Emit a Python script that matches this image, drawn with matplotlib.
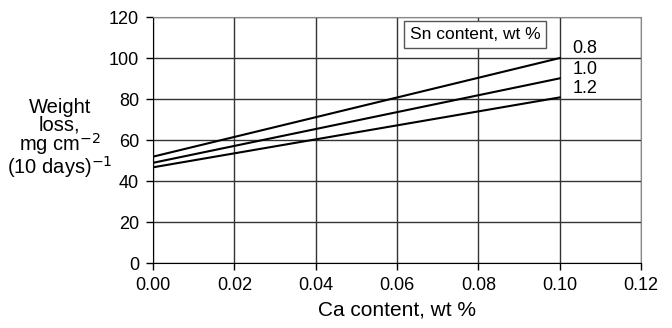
import matplotlib
matplotlib.use("Agg")
import matplotlib.pyplot as plt

plt.rcParams['font.family'] = ['Liberation Sans', 'DejaVu Sans']

# Ca content (wt %) at the line ends
ca = [0.0, 0.10]
# weight loss for each Sn content
sn_labels = ['0.8', '1.0', '1.2']
loss_08 = [51.9, 100.0]
loss_10 = [48.9, 90.1]
loss_12 = [46.7, 80.8]
series = [loss_08, loss_10, loss_12]

xticks = [0.00, 0.02, 0.04, 0.06, 0.08, 0.10, 0.12]
yticks = [0, 20, 40, 60, 80, 100, 120]

fig = plt.figure(figsize=(6.72, 3.28), dpi=100)
ax = fig.add_axes([0.2277, 0.198, 0.7262, 0.75])

for ys, lab in zip(series, sn_labels):
    ax.plot(ca, ys, color='black', lw=1.5, zorder=3)
    # label for each line at the right end
    ax.text(0.1032, ys[-1] + 4.5, lab, fontsize=13, va='center', ha='left')

ax.text(0.0792, 111.5, 'Sn content, wt %', fontsize=12.5, ha='center', va='center',
        bbox=dict(boxstyle='square,pad=0.35', fc='white', ec='#555555', lw=1), zorder=4)

ax.set_xlim(0, 0.12)
ax.set_ylim(0, 120)
ax.set_xticks(xticks)
ax.set_xticklabels([f'{v:.2f}' for v in xticks])
ax.set_yticks(yticks)
ax.grid(True, color='#333333', lw=1)
ax.set_axisbelow(True)
ax.tick_params(labelsize=13, direction='out', length=5, width=1, pad=5)

for s in ['top', 'right']:
    ax.spines[s].set_color('#888888')
for s in ['left', 'bottom']:
    ax.spines[s].set_color('black')

ax.set_xlabel('Ca content, wt %', fontsize=15, labelpad=5)
fig.text(0.089, 0.576, 'Weight\nloss,\nmg cm$^{-2}$\n(10 days)$^{-1}$', fontsize=14.5,
         ha='center', va='center', linespacing=0.85)

plt.savefig('out.png', dpi=100)
